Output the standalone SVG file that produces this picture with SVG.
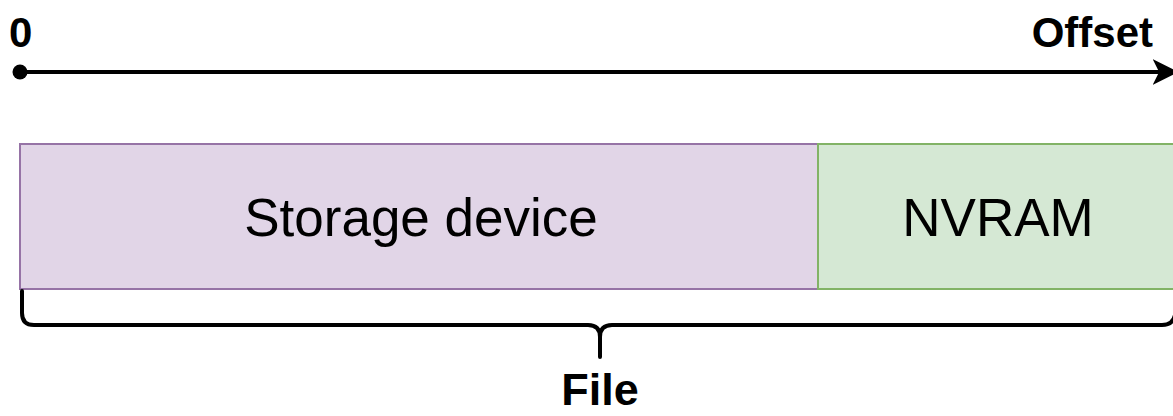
<svg xmlns="http://www.w3.org/2000/svg" width="1173" height="416" viewBox="0 0 1173 416">
  <style>
    .lbl { font-family: "Liberation Sans", Arial, sans-serif; fill: #000; }
    .bold { font-weight: bold; }
    .line { fill: none; stroke: #000; stroke-width: 4; stroke-linecap: round; stroke-linejoin: round; }
  </style>
  <defs>
    <marker id="arrow" viewBox="0 0 10 10" refX="9" refY="5" markerWidth="6.5" markerHeight="6.5" markerUnits="strokeWidth" orient="auto">
      <path d="M0,0 L10,5 L0,10 L2.5,5 Z" fill="#000"/>
    </marker>
  </defs>
  <rect width="1173" height="416" fill="#fff"/>

  <!-- offset axis -->
  <g id="axis">
    <circle cx="20" cy="72" r="7.5" fill="#000"/>
    <line x1="20" y1="72" x2="1176" y2="72" class="line" marker-end="url(#arrow)"/>
    <text x="9" y="47" class="lbl bold" font-size="42">0</text>
    <text x="1153" y="47" class="lbl bold" font-size="42" text-anchor="end">Offset</text>
  </g>

  <g id="storage">
    <rect x="20" y="144" width="798" height="145" fill="#e1d5e7" stroke="#9673a6" stroke-width="2"/>
    <text x="421" y="236" class="lbl" font-size="53" text-anchor="middle">Storage device</text>
  </g>

  <g id="nvram">
    <rect x="818" y="144" width="360" height="145" fill="#d5e8d4" stroke="#82b366" stroke-width="2"/>
    <text x="998" y="236" class="lbl" font-size="53" text-anchor="middle">NVRAM</text>
  </g>

  <!-- brace spanning the file -->
  <g id="connectors">
    <path class="line" d="M22,291 L22,313 Q22,325 34,325 L588,325 Q600,325 600,337 L600,357 M600,337 Q600,325 612,325 L1162,325 Q1173,325 1175,315"/>
  </g>

  <g id="file">
    <text x="600" y="405" class="lbl bold" font-size="45" text-anchor="middle">File</text>
  </g>
</svg>
